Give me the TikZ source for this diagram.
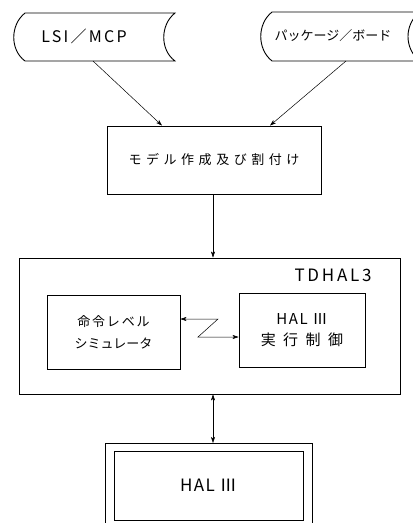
\documentclass[tikz,border=0pt]{standalone}
\usepackage{fontspec}
\setmainfont{Noto Sans CJK JP}
\usetikzlibrary{arrows.meta,calc}
\tikzset{
  box/.style={draw, line width=0.9pt, inner sep=0pt},
  conn/.style={line width=0.5pt, -{Stealth[length=6pt,width=4pt,inset=1.5pt]}},
  dconn/.style={line width=0.5pt, {Stealth[length=6pt,width=4pt,inset=1.5pt]}-{Stealth[length=6pt,width=4pt,inset=1.5pt]}},
  store/.style={line width=0.9pt},
}
\begin{document}
\begin{tikzpicture}[x=1pt,y=-1pt]
\useasboundingbox (0,0) rectangle (413,523);
\clip (0,0) rectangle (413,523);
% storage shapes
\draw[store] (25,13) -- (175,13) .. controls (160,25) and (160,50) .. (175,61) -- (25,61) .. controls (10,50) and (10,25) .. (25,13);
\node (lsi) at (84,36) {\fontsize{16}{18}\selectfont\addfontfeature{LetterSpace=14}LSI／MCP};
\draw[store] (272,12) -- (420,12) .. controls (404,24) and (404,49) .. (420,61) -- (272,61) .. controls (257,49) and (257,24) .. (272,12);
\node (pkg) at (333,36) {\fontsize{13}{15}\selectfont パッケージ／ボード};
\coordinate (lsiB) at (93,61);
\coordinate (pkgB) at (346,61);
% model box
\node[box, minimum width=214pt, minimum height=68pt] (model) at (214,160) {\fontsize{13}{15}\selectfont\addfontfeature{LetterSpace=35}モデル作成及び割付け};
\draw[conn] (lsiB) -- ($(model.north)+(-52,0)$);
\draw[conn] (pkgB) -- ($(model.north)+(56,0)$);
% TDHAL3
\node[box, minimum width=381pt, minimum height=136pt] (tdhal) at (209.5,326) {};
\node[anchor=east] (tdlabel) at (375,275) {\fontsize{17}{19}\selectfont\addfontfeature{LetterSpace=16}TDHAL3};
\node[box, minimum width=133pt, minimum height=74pt, align=center,
  font=\fontsize{13}{22}\selectfont] (sim) at (113.5,332)
  {\addfontfeature{LetterSpace=14}命令レベル\\シミュレータ};
\node[box, minimum width=126pt, minimum height=74pt, align=center,
  font=\fontsize{15}{21}\selectfont] (exec) at (302,330)
  {\addfontfeature{LetterSpace=10}HAL Ⅲ\\\addfontfeature{LetterSpace=50}実行制御};
\draw[conn] ($(model.south)+(-1,0)$) -- ($(tdhal.north)+(3.5,0)$);
\coordinate (z1) at (218,319);
\coordinate (z2) at (198,337);
\draw[dconn] (sim.east |- z1) -- (z1) -- (z2) -- (exec.west |- z2);
% HAL III
\draw[line width=0.9pt] (105,530) -- (105,443) -- (312,443) -- (312,530);
\node[box, minimum width=189pt, minimum height=69pt] (hal) at (208.5,485.5) {\fontsize{17}{19}\selectfont\addfontfeature{LetterSpace=8}HAL Ⅲ};
\coordinate (halTop) at (213,443);
\draw[dconn] ($(tdhal.south)+(3.5,0)$) -- (halTop);
\end{tikzpicture}
\end{document}
